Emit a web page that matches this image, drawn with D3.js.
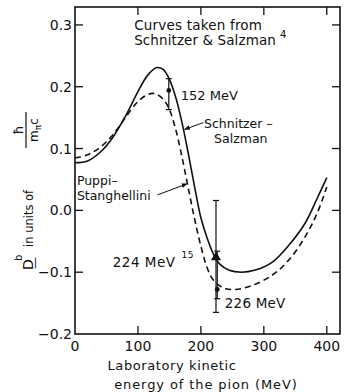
<!DOCTYPE html>
<html lang="en">
<head>
<meta charset="UTF-8">
<title>D- b vs pion energy</title>
<script src="https://d3js.org/d3.v7.min.js"></script>
<style>
  html, body { margin: 0; padding: 0; background: #fff; }
  svg text { font-family: "DejaVu Sans", sans-serif; fill: #111; }
</style>
</head>
<body>
<div id="chart"></div>
<script>
// curve (MeV, D_-^b in units of hbar/m_pi c)
const ssEnergy = [0, 20, 40, 60, 80, 100, 115, 130, 140, 150, 160, 170, 180, 190, 200, 210, 220, 230, 245, 265, 285, 313, 340, 366, 385, 400];
const ssValue  = [0.077, 0.080, 0.094, 0.118, 0.152, 0.192, 0.218, 0.231, 0.228, 0.212, 0.183, 0.142, 0.092, 0.038, -0.012, -0.045, -0.071, -0.087, -0.097, -0.100, -0.097, -0.084, -0.056, -0.020, 0.020, 0.053];

const psEnergy = [0, 20, 40, 60, 80, 100, 115, 126, 140, 150, 160, 170, 180, 190, 200, 210, 220, 235, 255, 280, 313, 340, 366, 385, 400];
const psValue  = [0.085, 0.090, 0.102, 0.122, 0.150, 0.176, 0.187, 0.189, 0.180, 0.163, 0.131, 0.086, 0.036, -0.014, -0.058, -0.093, -0.113, -0.125, -0.128, -0.122, -0.105, -0.080, -0.042, -0.004, 0.038];

// measured points
const ptEnergy = [149, 224, 226];
const ptValue  = [0.194, -0.076, -0.128];
const ptHigh   = [0.213, 0.016, -0.066];
const ptLow    = [0.163, -0.165, -0.143];
const ptShape  = ["circle", "triangle", "circle"];

const xTicks = [0, 100, 200, 300, 400];
const yTicks = [-0.2, -0.1, 0.0, 0.1, 0.2, 0.3];

const W = 344, H = 392;
const svg = d3.select("#chart").append("svg").attr("width", W).attr("height", H);

const x = d3.scaleLinear().domain([0, 421]).range([75, 340]);
const y = d3.scaleLinear().domain([-0.2, 0.329]).range([334, 7]);

// frame
svg.append("rect")
  .attr("x", x(0)).attr("y", y(0.329))
  .attr("width", x(421) - x(0)).attr("height", y(-0.2) - y(0.329))
  .attr("fill", "none").attr("stroke", "#111").attr("stroke-width", 1.6);

// inward ticks on all four sides
const tl = 8;
svg.append("g").selectAll("line").data(xTicks.filter(d => d > 0)).join("line")
  .attr("x1", d => x(d)).attr("x2", d => x(d))
  .attr("y1", y(-0.2)).attr("y2", y(-0.2) - tl)
  .attr("stroke", "#111").attr("stroke-width", 1.3);
svg.append("g").selectAll("line").data(xTicks.filter(d => d > 0)).join("line")
  .attr("x1", d => x(d)).attr("x2", d => x(d))
  .attr("y1", y(0.329)).attr("y2", y(0.329) + tl)
  .attr("stroke", "#111").attr("stroke-width", 1.3);
svg.append("g").selectAll("line").data(yTicks.filter(d => d > -0.2)).join("line")
  .attr("x1", x(0)).attr("x2", x(0) + tl)
  .attr("y1", d => y(d)).attr("y2", d => y(d))
  .attr("stroke", "#111").attr("stroke-width", 1.3);
svg.append("g").selectAll("line").data(yTicks.filter(d => d > -0.2)).join("line")
  .attr("x1", x(421)).attr("x2", x(421) - tl)
  .attr("y1", d => y(d)).attr("y2", d => y(d))
  .attr("stroke", "#111").attr("stroke-width", 1.3);

// tick labels
svg.append("g").selectAll("text").data(xTicks).join("text")
  .attr("x", d => x(d)).attr("y", y(-0.2) + 17)
  .attr("text-anchor", "middle").style("font-size", "14px")
  .text(d => d);
svg.append("g").selectAll("text").data(yTicks).join("text")
  .attr("x", x(0) - 3).attr("y", d => y(d) + 5)
  .attr("text-anchor", "end").style("font-size", "14px")
  .text(d => d.toFixed(1).replace("-", "\u2212"));

// x title
svg.append("text").attr("x", 172).attr("y", 370).attr("text-anchor", "middle")
  .style("font-size", "13px").style("letter-spacing", "0.6px").text("Laboratory kinetic");
svg.append("text").attr("x", 206).attr("y", 389).attr("text-anchor", "middle")
  .style("font-size", "13px").style("letter-spacing", "0.9px").text("energy of the pion (MeV)");

// y title, rotated
const yl = svg.append("g").attr("transform", "translate(33,270) rotate(-90)");
yl.append("text").attr("x", 0).attr("y", 0).style("font-size", "14px").text("D");
yl.append("text").attr("x", 9).attr("y", -11).style("font-size", "10px").text("b");
yl.append("text").attr("x", 1).attr("y", 6).style("font-size", "12px").text("\u2014");
yl.append("text").attr("x", 23).attr("y", 0).style("font-size", "11.5px").text("in units of");
yl.append("line").attr("x1", 122).attr("x2", 158).attr("y1", -7).attr("y2", -7)
  .attr("stroke", "#111").attr("stroke-width", 1.2);
yl.append("text").attr("x", 140).attr("y", -10).attr("text-anchor", "middle").style("font-size", "13px").text("\u0127");
const den = yl.append("text").attr("x", 140).attr("y", 5).attr("text-anchor", "middle").style("font-size", "12px");
den.append("tspan").text("m");
den.append("tspan").attr("dy", 3).style("font-size", "9px").text("\u03c0");
den.append("tspan").attr("dy", -3).text("c");

// curves
const line = d3.line().x(d => x(d[0])).y(d => y(d[1])).curve(d3.curveCatmullRom.alpha(0.5));
svg.append("path").datum(d3.zip(ssEnergy, ssValue)).attr("d", line)
  .attr("fill", "none").attr("stroke", "#111").attr("stroke-width", 1.6);
svg.append("path").datum(d3.zip(psEnergy, psValue)).attr("d", line)
  .attr("fill", "none").attr("stroke", "#111").attr("stroke-width", 1.6)
  .attr("stroke-dasharray", "6,4");

// error bars
const pts = ptEnergy.map((e, i) => ({e, v: ptValue[i], hi: ptHigh[i], lo: ptLow[i], shape: ptShape[i]}));
const eb = svg.append("g").selectAll("g").data(pts).join("g");
eb.append("line").attr("x1", d => x(d.e)).attr("x2", d => x(d.e))
  .attr("y1", d => y(d.hi)).attr("y2", d => y(d.lo)).attr("stroke", "#111").attr("stroke-width", 1.2);
eb.append("line").attr("x1", d => x(d.e) - 3).attr("x2", d => x(d.e) + 3)
  .attr("y1", d => y(d.hi)).attr("y2", d => y(d.hi)).attr("stroke", "#111").attr("stroke-width", 1.2);
eb.append("line").attr("x1", d => x(d.e) - 3).attr("x2", d => x(d.e) + 3)
  .attr("y1", d => y(d.lo)).attr("y2", d => y(d.lo)).attr("stroke", "#111").attr("stroke-width", 1.2);
eb.append("path")
  .attr("transform", d => `translate(${x(d.e)},${y(d.v)})`)
  .attr("d", d => d3.symbol(d.shape === "triangle" ? d3.symbolTriangle : d3.symbolCircle, d.shape === "triangle" ? 45 : 18)())
  .attr("fill", "#111");

// annotations (data units)
function note(e, v, txt, size) {
  return svg.append("text").attr("x", x(e)).attr("y", y(v)).style("font-size", (size || 13) + "px").text(txt);
}
note(94, 0.292, "Curves taken from", 13.5).style("letter-spacing", "0.2px");
const ref4 = note(94, 0.268, "Schnitzer & Salzman", 13.5).style("letter-spacing", "0.1px");
ref4.append("tspan").attr("dx", 4).attr("dy", -7).style("font-size", "10px").text("4");
note(168, 0.179, "152 MeV", 13);
note(205, 0.133, "Schnitzer \u2013", 12.5);
note(221, 0.109, "Salzman", 12.5);
note(3, 0.041, "Puppi\u2013", 12.5);
note(3, 0.017, "Stanghellini", 12.5);
const ref15 = note(60, -0.092, "224 MeV", 13.5).style("letter-spacing", "0.5px");
ref15.append("tspan").attr("dx", 6).attr("dy", -9).style("font-size", "9px").text("15");
note(238, -0.158, "226 MeV", 13.5).style("letter-spacing", "0.2px");

// arrows to the curves
const arrows = [
  {from: [204, 0.142], to: [174, 0.131]},
  {from: [131, 0.025], to: [178, 0.043]}
];
svg.append("defs").append("marker").attr("id", "ah")
  .attr("viewBox", "0 0 10 10").attr("refX", 9).attr("refY", 5)
  .attr("markerWidth", 6).attr("markerHeight", 6).attr("orient", "auto")
  .append("path").attr("d", "M0,1 L10,5 L0,9 z").attr("fill", "#111");
svg.append("g").selectAll("path").data(arrows).join("path")
  .attr("d", d => `M${x(d.from[0])},${y(d.from[1])} L${x(d.to[0])},${y(d.to[1])}`)
  .attr("fill", "none").attr("stroke", "#111").attr("stroke-width", 1)
  .attr("marker-end", "url(#ah)");
</script>
</body>
</html>
